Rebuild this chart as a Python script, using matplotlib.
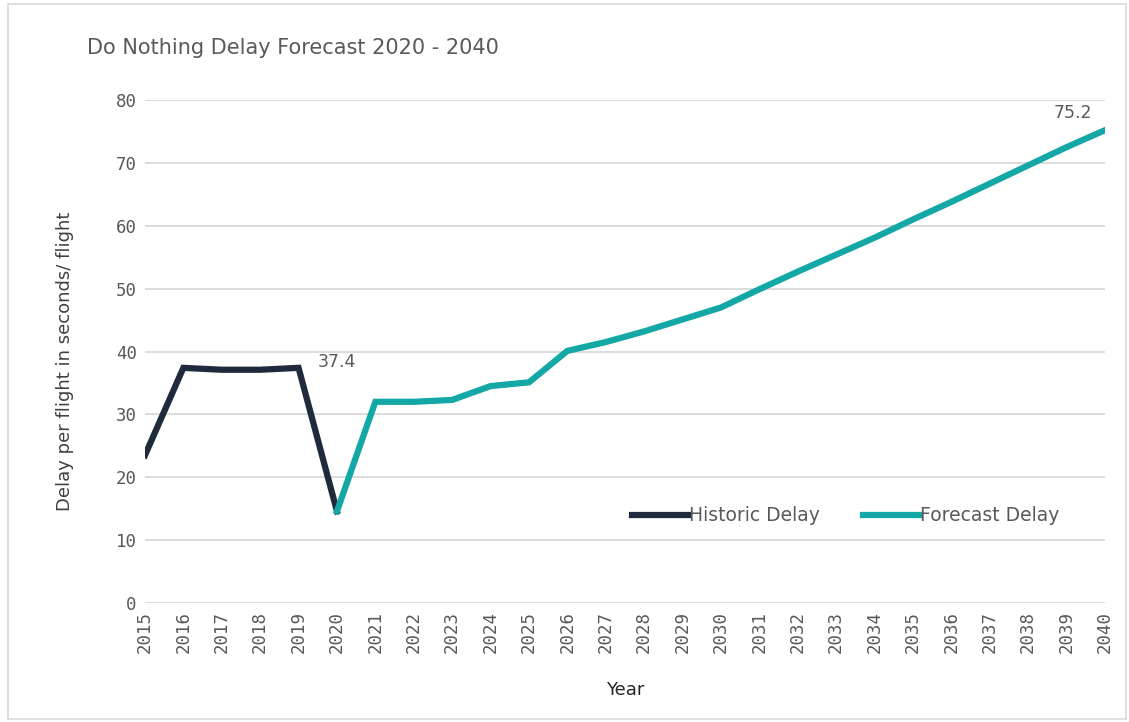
import matplotlib
matplotlib.use("Agg")
import matplotlib.pyplot as plt
from matplotlib.patches import Rectangle

# data
hist_years = [2015, 2016, 2017, 2018, 2019, 2020]
hist_delay = [23.5, 37.4, 37.1, 37.1, 37.4, 14.6]

fc_years = list(range(2020, 2041))
fc_delay = [14.6, 32.0, 32.0, 32.3, 34.5, 35.1, 40.1, 41.5, 43.2, 45.1, 47.0,
            49.9, 52.7, 55.4, 58.1, 61.0, 63.8, 66.7, 69.6, 72.5, 75.2]

HIST_C = "#1f2b3d"
FC_C = "#13a8a5"
TXT = "#595959"

fig = plt.figure(figsize=(11.29, 7.22), dpi=100)
fig.patches.append(Rectangle((0.007, 0.004), 0.99, 0.99, transform=fig.transFigure,
                             fill=False, edgecolor="#d9d9d9", linewidth=1.2))
ax = fig.add_axes([0.1284, 0.1648, 0.8503, 0.6967])

ax.plot(hist_years, hist_delay, color=HIST_C, lw=4.5, solid_joinstyle="miter",
        label="Historic Delay", zorder=3)
ax.plot(fc_years, fc_delay, color=FC_C, lw=4.5, solid_joinstyle="miter",
        label="Forecast Delay", zorder=3)

ax.annotate(f"{hist_delay[4]}", (hist_years[4], hist_delay[4]), xytext=(14, 4),
            textcoords="offset points", ha="left", va="center", fontsize=12.5, color=TXT)
ax.annotate(f"{fc_delay[-1]}", (fc_years[-1], fc_delay[-1]), xytext=(-9, 6),
            textcoords="offset points", ha="right", va="bottom", fontsize=12.5, color=TXT)

ax.set_xlim(2015, 2040)
ax.set_ylim(0, 80)
ax.set_yticks(range(0, 81, 10))
ax.set_xticks(range(2015, 2041))
ax.set_xticklabels([str(y) for y in range(2015, 2041)], rotation=90,
                   family="DejaVu Sans Mono")
ax.set_yticklabels([str(v) for v in range(0, 81, 10)], family="DejaVu Sans Mono")
ax.tick_params(length=0, labelsize=12.5, labelcolor=TXT, pad=6)
ax.grid(axis="y", color="#d9d9d9", lw=1.3)
ax.set_axisbelow(True)
for s in ax.spines.values():
    s.set_visible(False)

ax.set_ylabel("Delay per flight in seconds/ flight", fontsize=13, color="#404040")
ax.yaxis.set_label_coords(-0.074, 0.48)
ax.set_xlabel("Year", fontsize=13, color="#262626", labelpad=20)

fig.text(0.077, 0.933, "Do Nothing Delay Forecast 2020 - 2040", fontsize=15,
         color=TXT, ha="left", va="center")

ax.legend(loc="center", bbox_to_anchor=(0.73, 0.173), ncol=2, frameon=False,
          fontsize=13.5, labelcolor=TXT, handlelength=3.0, handletextpad=0.05,
          columnspacing=2.3)

fig.savefig("out.png", dpi=100)
